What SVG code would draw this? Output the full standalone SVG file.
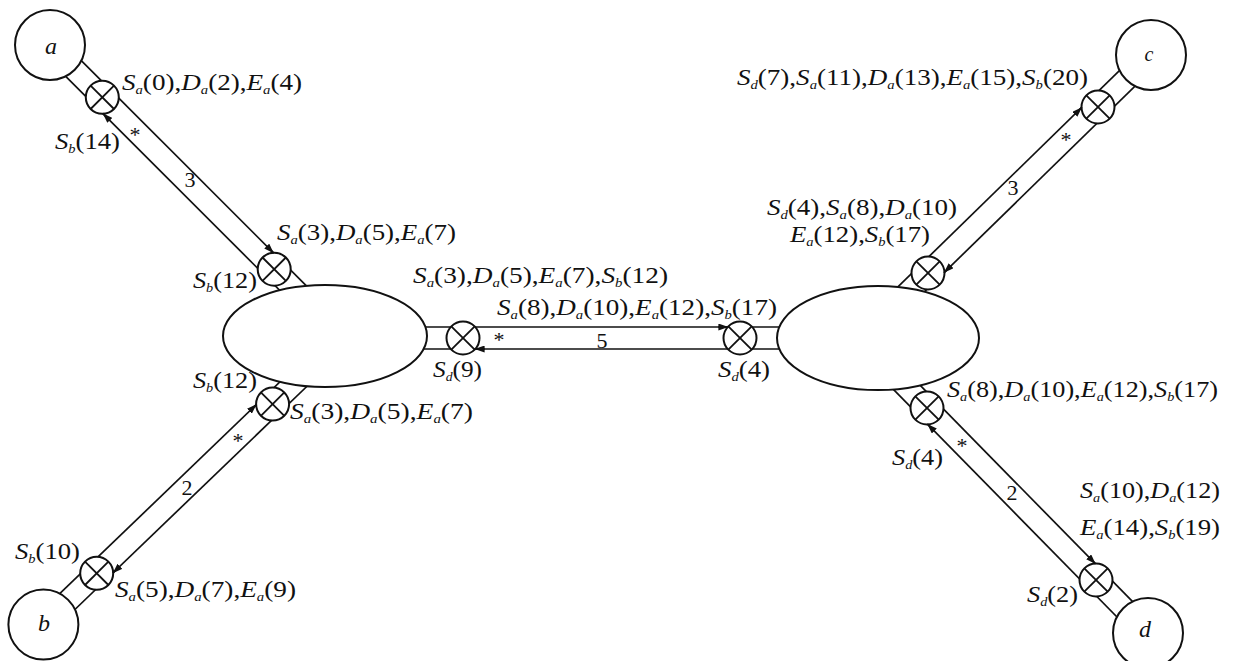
<svg xmlns="http://www.w3.org/2000/svg" width="1233" height="661" viewBox="0 0 1233 661">
<style>
.rail{stroke:#111;stroke-width:1.7;fill:none}
.ar{stroke:#111;stroke-width:1.7;fill:none;marker-end:url(#ah)}
.ox{stroke:#111;stroke-width:2;fill:#fff}
.oxl{stroke:#111;stroke-width:1.8}
.node{stroke:#111;stroke-width:2;fill:#fff}
.t{font-family:"Liberation Serif",serif;font-size:24px;fill:#111}
.i{font-style:italic}
.s{font-style:italic;font-size:13px}
.nl{font-family:"Liberation Serif",serif;font-style:italic;font-size:24px;fill:#111;text-anchor:middle}
.cl{font-family:"Liberation Serif",serif;font-size:22px;fill:#111;text-anchor:middle}
.st{font-family:"Liberation Serif",serif;font-size:22px;fill:#111;text-anchor:middle}
</style>
<defs>
<marker id="ah" markerUnits="userSpaceOnUse" markerWidth="11" markerHeight="7" refX="10" refY="3.5" orient="auto"><path d="M0,0 L10,3.5 L0,7 z" fill="#111"/></marker>
<g id="otimes"><circle r="16.5" class="ox"/><line x1="-11.7" y1="-11.7" x2="11.7" y2="11.7" class="oxl"/><line x1="-11.7" y1="11.7" x2="11.7" y2="-11.7" class="oxl"/></g>
</defs>
<rect width="1233" height="661" fill="#fff"/>
<g id="connectors">
<!-- a to left hub -->
<line class="rail" x1="57.8" y1="37.2" x2="319.4" y2="298.8"/>
<line class="rail" x1="42.2" y1="52.8" x2="303.8" y2="314.4"/>
<!-- b to left hub -->
<line class="rail" x1="51.0" y1="632.5" x2="317.7" y2="376.0"/>
<line class="rail" x1="35.8" y1="616.7" x2="302.5" y2="360.2"/>
<!-- left hub to right hub -->
<line class="rail" x1="400" y1="327" x2="800" y2="327"/>
<line class="rail" x1="400" y1="349" x2="800" y2="349"/>
<!-- c to right hub -->
<line class="rail" x1="1158.6" y1="63.2" x2="897.4" y2="318.2"/>
<line class="rail" x1="1143.2" y1="47.4" x2="882.0" y2="302.4"/>
<!-- d to right hub -->
<line class="rail" x1="1155.7" y1="625.1" x2="899.9" y2="364.7"/>
<line class="rail" x1="1140.1" y1="640.5" x2="884.3" y2="380.1"/>
<use href="#otimes" x="102.3" y="97.3"/>
<use href="#otimes" x="274.2" y="269.2"/>
<use href="#otimes" x="96.7" y="573.3"/>
<use href="#otimes" x="272.6" y="404.1"/>
<use href="#otimes" x="463" y="338"/>
<use href="#otimes" x="740" y="338"/>
<use href="#otimes" x="1098" y="107"/>
<use href="#otimes" x="928" y="273"/>
<use href="#otimes" x="927" y="408"/>
<use href="#otimes" x="1096" y="580"/>
<path class="ar" d="M266.7,246.1 L273.8,253.2"/>
<path class="ar" d="M109.8,120.4 L102.7,113.3"/>
<path class="ar" d="M249.4,411.2 L256.6,404.3"/>
<path class="ar" d="M119.9,566.3 L112.7,573.2"/>
<path class="ar" d="M718.4,327 L728.4,327"/>
<path class="ar" d="M484.6,349 L474.6,349"/>
<path class="ar" d="M1074.9,114.2 L1082.0,107.2"/>
<path class="ar" d="M951.1,265.8 L943.9,272.8"/>
<path class="ar" d="M934.3,431.0 L927.3,423.9"/>
<path class="ar" d="M1088.7,556.9 L1095.7,564.0"/>
<text class="st" x="135" y="142">*</text>
<text class="cl" x="190" y="187">3</text>
<text class="st" x="238" y="448">*</text>
<text class="cl" x="187" y="495">2</text>
<text class="st" x="499" y="347">*</text>
<text class="cl" x="602" y="348">5</text>
<text class="st" x="1066" y="147">*</text>
<text class="cl" x="1013" y="195">3</text>
<text class="st" x="962" y="453">*</text>
<text class="cl" x="1012" y="500">2</text>
</g>
<g id="node-a"><circle class="node" cx="50" cy="45" r="35"/><text class="nl" x="51" y="54">a</text></g>
<g id="node-b"><circle class="node" cx="43.4" cy="624.6" r="35"/><text class="nl" x="44" y="631">b</text></g>
<g id="node-c"><circle class="node" cx="1151" cy="55" r="35"/><text class="nl" x="1149" y="61" style="font-size:20px">c</text></g>
<g id="node-d"><circle class="node" cx="1148" cy="633" r="35"/><text class="nl" x="1145" y="637">d</text></g>
<g id="hub-left"><ellipse class="node" cx="325" cy="336" rx="102" ry="51"/></g>
<g id="hub-right"><ellipse class="node" cx="878" cy="338" rx="101" ry="52"/></g>
<g id="labels">
<text class="t" x="122" y="90" textLength="180" lengthAdjust="spacingAndGlyphs"><tspan class="i">S</tspan><tspan class="s" dy="4">a</tspan><tspan dy="-4">(0),</tspan><tspan class="i">D</tspan><tspan class="s" dy="4">a</tspan><tspan dy="-4">(2),</tspan><tspan class="i">E</tspan><tspan class="s" dy="4">a</tspan><tspan dy="-4">(4)</tspan></text>
<text class="t" x="55" y="149" textLength="65" lengthAdjust="spacingAndGlyphs"><tspan class="i">S</tspan><tspan class="s" dy="4">b</tspan><tspan dy="-4">(14)</tspan></text>
<text class="t" x="277" y="240" textLength="179" lengthAdjust="spacingAndGlyphs"><tspan class="i">S</tspan><tspan class="s" dy="4">a</tspan><tspan dy="-4">(3),</tspan><tspan class="i">D</tspan><tspan class="s" dy="4">a</tspan><tspan dy="-4">(5),</tspan><tspan class="i">E</tspan><tspan class="s" dy="4">a</tspan><tspan dy="-4">(7)</tspan></text>
<text class="t" x="193" y="288" textLength="64" lengthAdjust="spacingAndGlyphs"><tspan class="i">S</tspan><tspan class="s" dy="4">b</tspan><tspan dy="-4">(12)</tspan></text>
<text class="t" x="193" y="388" textLength="64" lengthAdjust="spacingAndGlyphs"><tspan class="i">S</tspan><tspan class="s" dy="4">b</tspan><tspan dy="-4">(12)</tspan></text>
<text class="t" x="290" y="419" textLength="183" lengthAdjust="spacingAndGlyphs"><tspan class="i">S</tspan><tspan class="s" dy="4">a</tspan><tspan dy="-4">(3),</tspan><tspan class="i">D</tspan><tspan class="s" dy="4">a</tspan><tspan dy="-4">(5),</tspan><tspan class="i">E</tspan><tspan class="s" dy="4">a</tspan><tspan dy="-4">(7)</tspan></text>
<text class="t" x="15" y="559" textLength="65" lengthAdjust="spacingAndGlyphs"><tspan class="i">S</tspan><tspan class="s" dy="4">b</tspan><tspan dy="-4">(10)</tspan></text>
<text class="t" x="115" y="597" textLength="181" lengthAdjust="spacingAndGlyphs"><tspan class="i">S</tspan><tspan class="s" dy="4">a</tspan><tspan dy="-4">(5),</tspan><tspan class="i">D</tspan><tspan class="s" dy="4">a</tspan><tspan dy="-4">(7),</tspan><tspan class="i">E</tspan><tspan class="s" dy="4">a</tspan><tspan dy="-4">(9)</tspan></text>
<text class="t" x="413" y="283" textLength="255" lengthAdjust="spacingAndGlyphs"><tspan class="i">S</tspan><tspan class="s" dy="4">a</tspan><tspan dy="-4">(3),</tspan><tspan class="i">D</tspan><tspan class="s" dy="4">a</tspan><tspan dy="-4">(5),</tspan><tspan class="i">E</tspan><tspan class="s" dy="4">a</tspan><tspan dy="-4">(7),</tspan><tspan class="i">S</tspan><tspan class="s" dy="4">b</tspan><tspan dy="-4">(12)</tspan></text>
<text class="t" x="497" y="315" textLength="280" lengthAdjust="spacingAndGlyphs"><tspan class="i">S</tspan><tspan class="s" dy="4">a</tspan><tspan dy="-4">(8),</tspan><tspan class="i">D</tspan><tspan class="s" dy="4">a</tspan><tspan dy="-4">(10),</tspan><tspan class="i">E</tspan><tspan class="s" dy="4">a</tspan><tspan dy="-4">(12),</tspan><tspan class="i">S</tspan><tspan class="s" dy="4">b</tspan><tspan dy="-4">(17)</tspan></text>
<text class="t" x="433" y="377" textLength="49" lengthAdjust="spacingAndGlyphs"><tspan class="i">S</tspan><tspan class="s" dy="4">d</tspan><tspan dy="-4">(9)</tspan></text>
<text class="t" x="718" y="377" textLength="52" lengthAdjust="spacingAndGlyphs"><tspan class="i">S</tspan><tspan class="s" dy="4">d</tspan><tspan dy="-4">(4)</tspan></text>
<text class="t" x="737" y="85" textLength="351" lengthAdjust="spacingAndGlyphs"><tspan class="i">S</tspan><tspan class="s" dy="4">d</tspan><tspan dy="-4">(7),</tspan><tspan class="i">S</tspan><tspan class="s" dy="4">a</tspan><tspan dy="-4">(11),</tspan><tspan class="i">D</tspan><tspan class="s" dy="4">a</tspan><tspan dy="-4">(13),</tspan><tspan class="i">E</tspan><tspan class="s" dy="4">a</tspan><tspan dy="-4">(15),</tspan><tspan class="i">S</tspan><tspan class="s" dy="4">b</tspan><tspan dy="-4">(20)</tspan></text>
<text class="t" x="767" y="215" textLength="190" lengthAdjust="spacingAndGlyphs"><tspan class="i">S</tspan><tspan class="s" dy="4">d</tspan><tspan dy="-4">(4),</tspan><tspan class="i">S</tspan><tspan class="s" dy="4">a</tspan><tspan dy="-4">(8),</tspan><tspan class="i">D</tspan><tspan class="s" dy="4">a</tspan><tspan dy="-4">(10)</tspan></text>
<text class="t" x="790" y="242" textLength="140" lengthAdjust="spacingAndGlyphs"><tspan class="i">E</tspan><tspan class="s" dy="4">a</tspan><tspan dy="-4">(12),</tspan><tspan class="i">S</tspan><tspan class="s" dy="4">b</tspan><tspan dy="-4">(17)</tspan></text>
<text class="t" x="947" y="397" textLength="271" lengthAdjust="spacingAndGlyphs"><tspan class="i">S</tspan><tspan class="s" dy="4">a</tspan><tspan dy="-4">(8),</tspan><tspan class="i">D</tspan><tspan class="s" dy="4">a</tspan><tspan dy="-4">(10),</tspan><tspan class="i">E</tspan><tspan class="s" dy="4">a</tspan><tspan dy="-4">(12),</tspan><tspan class="i">S</tspan><tspan class="s" dy="4">b</tspan><tspan dy="-4">(17)</tspan></text>
<text class="t" x="892" y="465" textLength="51" lengthAdjust="spacingAndGlyphs"><tspan class="i">S</tspan><tspan class="s" dy="4">d</tspan><tspan dy="-4">(4)</tspan></text>
<text class="t" x="1080" y="498" textLength="140" lengthAdjust="spacingAndGlyphs"><tspan class="i">S</tspan><tspan class="s" dy="4">a</tspan><tspan dy="-4">(10),</tspan><tspan class="i">D</tspan><tspan class="s" dy="4">a</tspan><tspan dy="-4">(12)</tspan></text>
<text class="t" x="1080" y="535" textLength="140" lengthAdjust="spacingAndGlyphs"><tspan class="i">E</tspan><tspan class="s" dy="4">a</tspan><tspan dy="-4">(14),</tspan><tspan class="i">S</tspan><tspan class="s" dy="4">b</tspan><tspan dy="-4">(19)</tspan></text>
<text class="t" x="1027" y="602" textLength="51" lengthAdjust="spacingAndGlyphs"><tspan class="i">S</tspan><tspan class="s" dy="4">d</tspan><tspan dy="-4">(2)</tspan></text>
</g>
</svg>
